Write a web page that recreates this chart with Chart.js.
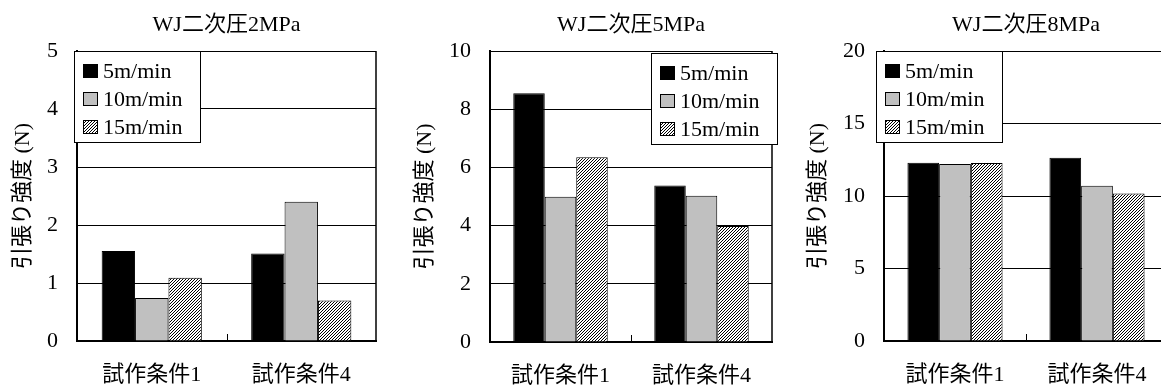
<!DOCTYPE html>
<html>
<head>
<meta charset="utf-8">
<script src="https://cdn.jsdelivr.net/npm/chart.js@4.4.1/dist/chart.umd.min.js"></script>
<style>
  html, body { margin: 0; padding: 0; background: #fff; overflow: hidden; width: 1161px; height: 389px; }
  canvas { position: absolute; top: 0; }
</style>
</head>
<body>
<canvas id="c1" width="444" height="389" style="left:0px"></canvas>
<canvas id="c2" width="440" height="389" style="left:402px"></canvas>
<canvas id="c3" width="458" height="389" style="left:795px"></canvas>
<script>
const categories = ["試作条件1", "試作条件4"];
const seriesLabels = ["5m/min", "10m/min", "15m/min"];
const titles = ["WJ二次圧2MPa", "WJ二次圧5MPa", "WJ二次圧8MPa"];
const yAxisTitle = "引張り強度 (N)";
const yMax = [5, 10, 20];
const yStep = [1, 2, 5];

// values, [試作条件1, 試作条件4]
const mpa2_5m = [1.55, 1.51];
const mpa2_10m = [0.74, 2.40];
const mpa2_15m = [1.09, 0.70];
const mpa5_5m = [8.55, 5.38];
const mpa5_10m = [4.99, 5.03];
const mpa5_15m = [6.35, 3.99];
const mpa8_5m = [12.30, 12.64];
const mpa8_10m = [12.20, 10.71];
const mpa8_15m = [12.28, 10.18];

const FONT = "'Liberation Serif', 'Noto Sans CJK JP', serif";
Chart.defaults.font.family = FONT;
Chart.defaults.color = "#000";

// fine "/" hatching for the 15m/min bars
function makeHatch() {
  const c = document.createElement("canvas");
  c.width = 3;
  c.height = 3;
  const g = c.getContext("2d");
  g.fillStyle = "#fff";
  g.fillRect(0, 0, 3, 3);
  g.fillStyle = "#000";
  for (let i = 0; i < 3; i++) g.fillRect(i, 2 - i, 1, 1);
  return g.createPattern(c, "repeat");
}
const hatch = makeHatch();
const fills = ["#000000", "#c0c0c0", hatch];

// right border + small tick between categories
const frame = {
  id: "frame",
  afterDraw(chart) {
    const ctx = chart.ctx;
    const a = chart.chartArea;
    const xs = chart.scales.x;
    ctx.save();
    ctx.strokeStyle = "#000";
    ctx.lineWidth = 1.5;
    ctx.beginPath();
    ctx.moveTo(a.right, a.top);
    ctx.lineTo(a.right, a.bottom);
    ctx.stroke();
    ctx.lineWidth = 1;
    for (let i = 1; i < xs.ticks.length; i++) {
      const px = Math.round((xs.getPixelForTick(i - 1) + xs.getPixelForTick(i)) / 2) + 0.5;
      ctx.beginPath();
      ctx.moveTo(px, a.bottom);
      ctx.lineTo(px, a.bottom - 7);
      ctx.stroke();
    }
    ctx.restore();
  }
};

// boxed legend drawn inside the plot
const boxLegend = {
  id: "boxLegend",
  afterDraw(chart, args, opts) {
    const ctx = chart.ctx;
    const a = chart.chartArea;
    const w = 127, h = 92;
    const left = opts.side === "right" ? a.right + opts.dx - w : a.left + opts.dx;
    const top = a.top + opts.dy;
    ctx.save();
    ctx.fillStyle = "#fff";
    ctx.fillRect(left, top, w, h);
    ctx.strokeStyle = "#000";
    ctx.lineWidth = 1;
    ctx.strokeRect(left + 0.5, top + 0.5, w - 1, h - 1);
    ctx.font = "22px " + FONT;
    ctx.textBaseline = "middle";
    chart.data.datasets.forEach((ds, i) => {
      const cy = Math.round(top + 20 + i * 28);
      ctx.fillStyle = ds.backgroundColor;
      ctx.fillRect(left + 9, cy - 7, 15, 14);
      ctx.strokeRect(left + 9.5, cy - 6.5, 14, 13);
      ctx.fillStyle = "#000";
      ctx.fillText(ds.label, left + 29, cy + 1);
    });
    ctx.restore();
  }
};

function makePanel(id, idx, values, axisW, padRight, xH, legendPos) {
  new Chart(document.getElementById(id), {
    type: "bar",
    data: {
      labels: categories,
      datasets: values.map((v, i) => ({
        label: seriesLabels[i],
        data: v,
        backgroundColor: fills[i],
        borderColor: "#000",
        borderWidth: 1,
        categoryPercentage: 0.67,
        barPercentage: 1.0
      }))
    },
    options: {
      responsive: false,
      animation: false,
      devicePixelRatio: 1,
      layout: { padding: { left: 0, right: padRight, top: 0, bottom: 0 } },
      plugins: {
        legend: { display: false },
        tooltip: { enabled: false },
        title: {
          display: true,
          fullSize: false,
          text: titles[idx],
          color: "#000",
          font: { size: 22, weight: "normal" },
          padding: { top: 12, bottom: 12.6 }
        },
        boxLegend: legendPos
      },
      scales: {
        x: {
          grid: { display: false, drawTicks: false },
          border: { display: true, color: "#000", width: 2 },
          ticks: { font: { size: 22 }, color: "#000", padding: 21 },
          afterFit: (s) => { s.height = xH; }
        },
        y: {
          min: 0,
          max: yMax[idx],
          ticks: { stepSize: yStep[idx], font: { size: 22 }, color: "#000", padding: 19 },
          grid: { color: "#000", lineWidth: 1, drawTicks: false },
          border: { display: true, color: "#000", width: 2 },
          title: {
            display: true,
            text: yAxisTitle,
            color: "#000",
            font: { size: 22 },
            padding: { top: 10, bottom: 0 }
          },
          afterFit: (s) => { s.width = axisW; }
        }
      }
    },
    plugins: [frame, boxLegend]
  });
}

makePanel("c1", 0, [mpa2_5m, mpa2_10m, mpa2_15m], 77, 68, 48, { side: "left", dx: -3, dy: 0 });
makePanel("c2", 1, [mpa5_5m, mpa5_10m, mpa5_15m], 88, 70, 47, { side: "right", dx: 6, dy: 2 });
makePanel("c3", 2, [mpa8_5m, mpa8_10m, mpa8_15m], 89, 85, 48, { side: "left", dx: -8, dy: 0 });
</script>
</body>
</html>
